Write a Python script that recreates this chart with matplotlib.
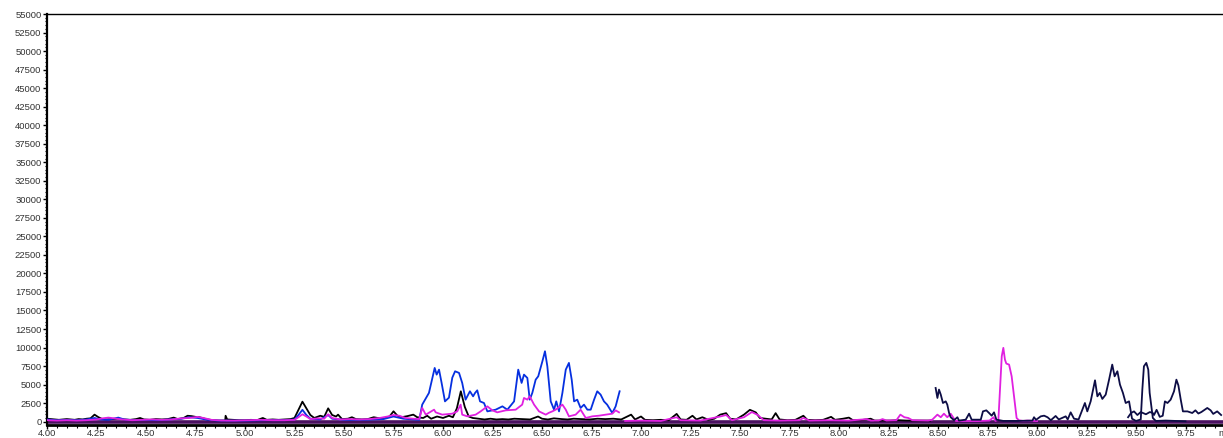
import matplotlib
matplotlib.use('Agg')
from matplotlib import pyplot as plt
from matplotlib.ticker import MultipleLocator, FormatStrFormatter

# retention time (min) / abundance
black_t = [4.00, 4.02, 4.04, 4.06, 4.08, 4.10, 4.12, 4.14, 4.16, 4.18, 4.20, 4.22, 4.24, 4.26, 4.28,
           4.30, 4.33, 4.36, 4.39, 4.42, 4.45, 4.47, 4.49, 4.52, 4.55, 4.58, 4.61, 4.64, 4.66, 4.69,
           4.71, 4.73, 4.75, 4.77, 4.79, 4.81, 4.84, 4.87, 4.90, 4.902, 4.91, 4.94, 4.97, 5.00, 5.03,
           5.06, 5.09, 5.11, 5.14, 5.17, 5.20, 5.23, 5.25, 5.27, 5.29, 5.31, 5.33, 5.35, 5.38, 5.40,
           5.42, 5.44, 5.46, 5.47, 5.49, 5.52, 5.54, 5.56, 5.59, 5.62, 5.65, 5.67, 5.70, 5.73, 5.75,
           5.77, 5.79, 5.82, 5.85, 5.87, 5.90, 5.92, 5.94, 5.97, 6.00, 6.03, 6.05, 6.07, 6.09, 6.11,
           6.13, 6.15, 6.18, 6.21, 6.24, 6.27, 6.30, 6.33, 6.36, 6.40, 6.44, 6.48, 6.50, 6.53, 6.56,
           6.60, 6.63, 6.66, 6.70, 6.74, 6.78, 6.82, 6.86, 6.90, 6.95, 6.97, 7.00, 7.02, 7.06, 7.10,
           7.14, 7.18, 7.20, 7.23, 7.26, 7.28, 7.31, 7.34, 7.37, 7.40, 7.43, 7.45, 7.48, 7.52, 7.55,
           7.58, 7.60, 7.63, 7.66, 7.68, 7.70, 7.74, 7.78, 7.82, 7.84, 7.88, 7.92, 7.96, 7.98, 8.02,
           8.05, 8.07, 8.11, 8.16, 8.18, 8.22, 8.26, 8.30, 8.34, 8.40, 8.46]
black_y = [400, 350, 300, 250, 300, 350, 300, 250, 350, 300, 400, 450, 950, 600, 350,
           300, 350, 400, 300, 250, 350, 500, 300, 250, 350, 300, 350, 550, 350, 500,
           800, 750, 650, 600, 450, 300, 200, 150, 150, 800, 300, 250, 200, 200, 250,
           200, 500, 250, 300, 250, 300, 350, 500, 1600, 2700, 1800, 900, 500, 800, 650,
           1800, 900, 700, 950, 350, 400, 600, 350, 300, 350, 600, 500, 450, 700, 1400,
           800, 600, 750, 950, 600, 500, 800, 400, 700, 500, 800, 600, 1800, 4100, 2000,
           700, 500, 400, 300, 400, 300, 350, 300, 400, 350, 300, 700, 400, 300, 450,
           350, 300, 400, 350, 300, 400, 350, 400, 300, 950, 300, 700, 250, 200, 250,
           200, 1050, 300, 250, 800, 300, 600, 250, 400, 950, 1150, 400, 300, 950, 1600,
           1250, 500, 400, 300, 1150, 300, 200, 250, 800, 250, 200, 250, 650, 250, 400,
           550, 200, 200, 400, 150, 150, 150, 200, 150, 150, 150]

blue_t = [4.00, 4.05, 4.10, 4.15, 4.20, 4.24, 4.27, 4.31, 4.36, 4.39, 4.44, 4.50, 4.56, 4.62, 4.68,
          4.72, 4.76, 4.80, 4.86, 4.92, 5.00, 5.10, 5.20, 5.25, 5.27, 5.29, 5.31, 5.33, 5.38, 5.42,
          5.44, 5.50, 5.60, 5.70, 5.75, 5.80, 5.85, 5.88,
          5.895, 5.929, 5.958, 5.968, 5.980, 5.993, 6.010, 6.030, 6.047, 6.061, 6.081, 6.097, 6.114,
          6.136, 6.152, 6.162, 6.173, 6.187, 6.207, 6.224, 6.266, 6.300, 6.325, 6.359, 6.380, 6.397,
          6.409, 6.426, 6.438, 6.451, 6.468, 6.481, 6.502, 6.515, 6.527, 6.544, 6.561, 6.572, 6.586,
          6.603, 6.620, 6.636, 6.650, 6.662, 6.678, 6.695, 6.712, 6.729, 6.746, 6.763, 6.779, 6.796,
          6.813, 6.829, 6.855, 6.872, 6.892]
blue_y = [300, 200, 250, 200, 300, 500, 300, 250, 550, 300, 200, 250, 200, 300, 400,
          600, 500, 300, 150, 150, 150, 200, 200, 300, 900, 1600, 900, 400, 300, 900,
          400, 250, 250, 350, 700, 400, 300, 250,
          2300, 3880, 7250, 6350, 7020, 5230, 2740, 3240, 5940, 6800, 6580, 5230, 2970,
          4100, 3420, 3880, 4230, 2740, 2520, 1390, 1620, 2070, 1620, 2740, 7020, 5230,
          6350, 5900, 2970, 3880, 5670, 6120, 8150, 9500, 7470, 2740, 1620, 2740, 1390,
          3880, 7020, 7930, 5670, 2740, 2970, 1850, 2300, 1620, 1620, 2970, 4100, 3650,
          2740, 2300, 1170, 2070, 4100]

magenta_a_t = [4.00, 4.05, 4.10, 4.15, 4.20, 4.25, 4.28, 4.31, 4.34, 4.38, 4.43, 4.48, 4.53, 4.58,
               4.63, 4.68, 4.72, 4.76, 4.79, 4.83, 4.88, 4.95, 5.02, 5.08, 5.14, 5.20, 5.25, 5.27,
               5.29, 5.31, 5.33, 5.37, 5.40, 5.42, 5.44, 5.48, 5.53, 5.58, 5.63, 5.68, 5.72, 5.75,
               5.78, 5.81, 5.85, 5.88, 5.895, 5.913, 5.955, 5.963, 5.996, 6.047, 6.072, 6.089, 6.097,
               6.123, 6.165, 6.190, 6.224, 6.249, 6.274, 6.317, 6.367, 6.400, 6.409, 6.426, 6.438,
               6.460, 6.485, 6.519, 6.535, 6.552, 6.569, 6.603, 6.620, 6.636, 6.670, 6.695, 6.721,
               6.754, 6.788, 6.822, 6.855, 6.872, 6.889]
magenta_a_y = [200, 150, 200, 150, 200, 300, 450, 550, 450, 300, 200, 250, 300, 250,
               300, 450, 500, 650, 500, 250, 150, 150, 200, 250, 200, 200, 250, 600,
               1000, 700, 350, 450, 400, 1000, 500, 300, 350, 300, 350, 500, 700, 900,
               800, 500, 400, 350, 1850, 950, 1620, 1260, 950, 1080, 1390, 2300, 950,
               720, 950, 1390, 2070, 1530, 1260, 1530, 1620, 2300, 3200, 2970, 3420,
               2300, 1390, 950, 1200, 1390, 1620, 2300, 1620, 720, 950, 1620, 500,
               720, 810, 950, 1080, 1530, 1260]

magenta_b_t = [6.92, 7.00, 7.10, 7.18, 7.20, 7.30, 7.40, 7.43, 7.46, 7.52, 7.56, 7.59, 7.62, 7.70,
               7.80, 7.82, 7.85, 7.95, 8.05, 8.12, 8.14, 8.16, 8.20, 8.22, 8.24, 8.29, 8.31, 8.33,
               8.35, 8.37, 8.45, 8.471, 8.497, 8.514, 8.530, 8.547, 8.564, 8.581, 8.59, 8.70, 8.76,
               8.78, 8.79, 8.805, 8.822, 8.830, 8.838, 8.845, 8.859, 8.872, 8.884, 8.897, 8.909,
               8.93, 8.95, 9.00]
magenta_b_y = [100, 150, 100, 600, 200, 150, 700, 900, 200, 600, 1300, 900, 200, 150,
               200, 500, 150, 200, 150, 300, 350, 150, 150, 350, 150, 200, 950, 600,
               500, 200, 150, 270, 950, 600, 1080, 600, 1080, 400, 100, 80, 150,
               600, 100, 270, 8830, 9960, 8380, 7840, 7700, 6120, 3420, 500, 180,
               100, 150, 80]

navy_t = [8.488, 8.497, 8.505, 8.514, 8.525, 8.539, 8.547, 8.556, 8.564, 8.581, 8.598, 8.606,
          8.640, 8.657, 8.670, 8.716, 8.727, 8.744, 8.758, 8.771, 8.783, 8.795, 8.83, 8.90, 8.977,
          8.985, 8.995, 9.019, 9.036, 9.053, 9.07, 9.094, 9.110, 9.145, 9.155, 9.170, 9.187, 9.21,
          9.242, 9.254, 9.271, 9.293, 9.305, 9.317, 9.330, 9.347, 9.364, 9.380, 9.392, 9.406,
          9.419, 9.434, 9.448, 9.465, 9.48, 9.50, 9.524, 9.532, 9.540, 9.552, 9.562, 9.569,
          9.585, 9.60, 9.65, 9.70, 9.75]
navy_y = [4550, 3200, 4330, 3650, 2520, 2740, 2300, 1170, 600, 200, 600, 150,
          270, 1080, 270, 270, 1390, 1530, 1170, 810, 1260, 270, 100, 100, 150,
          600, 250, 720, 810, 600, 200, 770, 300, 720, 300, 1260, 400, 300,
          2520, 1390, 2740, 5580, 3420, 3880, 3070, 3650, 5670, 7700, 6120, 6800,
          5000, 3880, 2520, 2740, 400, 100, 300, 4330, 7470, 7930, 7020, 3880,
          500, 100, 150, 100, 50]

navy2_t = [9.46, 9.475, 9.49, 9.507, 9.524, 9.55, 9.57, 9.585, 9.591, 9.604, 9.620, 9.635,
           9.646, 9.659, 9.675, 9.692, 9.704, 9.714, 9.726, 9.737, 9.760, 9.784, 9.800, 9.815,
           9.83, 9.860, 9.877, 9.890, 9.910, 9.930]
navy2_y = [600, 1170, 1390, 900, 1300, 1000, 1300, 1170, 900, 1600, 650, 800,
           2740, 2520, 2970, 4100, 5670, 4900, 2970, 1390, 1390, 1170, 1530, 1100,
           1300, 1850, 1530, 1050, 1390, 900]

fig = plt.figure(figsize=(12.23, 4.38), dpi=100)
ax = fig.add_axes([47 / 1223, 1 - 424.5 / 438, 1 - 47 / 1223, (424.5 - 14) / 438])

lw = 1.3
ax.axhline(0, color='#4a1060', lw=2.6, zorder=1)
ax.plot(black_t, black_y, color='#000000', lw=lw, zorder=2)
ax.plot(blue_t, blue_y, color='#0630e0', lw=lw, zorder=3)
ax.plot(magenta_a_t, magenta_a_y, color='#e020e0', lw=lw, zorder=4)
ax.plot(magenta_b_t, magenta_b_y, color='#e020e0', lw=lw, zorder=4)
ax.plot(navy_t, navy_y, color='#0d0d45', lw=lw, zorder=5)
ax.plot(navy2_t, navy2_y, color='#0d0d45', lw=lw, zorder=5)

ax.set_xlim(4.0, 4.0 + 1176 / 198)
ax.set_ylim(-380, 55000)

ax.spines['right'].set_visible(False)
ax.spines['top'].set_linewidth(1.0)
ax.spines['left'].set_linewidth(1.6)
ax.spines['bottom'].set_linewidth(2.0)

ax.xaxis.set_major_locator(MultipleLocator(0.25))
ax.xaxis.set_minor_locator(MultipleLocator(0.05))
ax.yaxis.set_major_locator(MultipleLocator(2500))
ax.yaxis.set_minor_locator(MultipleLocator(500))
ax.xaxis.set_major_formatter(FormatStrFormatter('%.2f'))

ax.tick_params(axis='x', which='major', length=3, width=1, pad=0.5, labelsize=6.8,
               labelcolor='#333333')
ax.tick_params(axis='x', which='minor', length=2, width=0.8)
ax.tick_params(axis='y', which='major', length=3, width=1, pad=1, labelsize=6.8,
               labelcolor='#333333')
ax.tick_params(axis='y', which='minor', length=1.5, width=0.8)
for lab in ax.get_xticklabels() + ax.get_yticklabels():
    lab.set_family('Liberation Sans')

ax.text(9.915, -0.012, 'min', transform=ax.get_xaxis_transform(), ha='left', va='top',
        family='Liberation Sans', size=6.8, color='#333333', clip_on=False)

fig.savefig('out.png', dpi=100)
plt.close(fig)
